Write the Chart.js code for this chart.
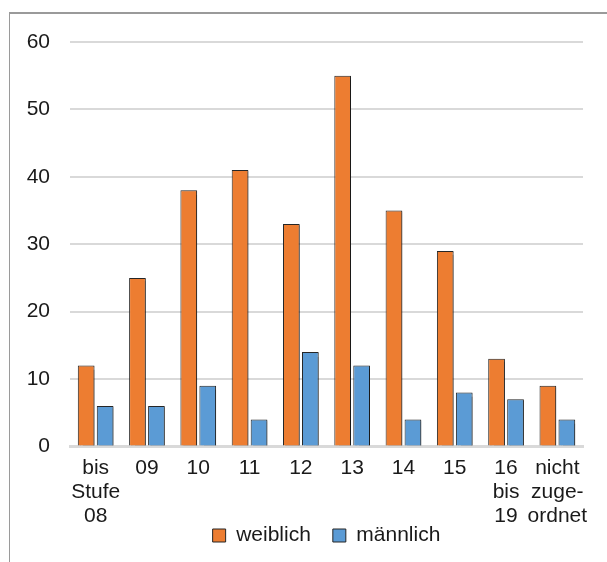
<!DOCTYPE html>
<html>
<head>
<meta charset="utf-8">
<script src="https://cdn.jsdelivr.net/npm/chart.js@4/dist/chart.umd.min.js"></script>
<style>
  html, body { margin: 0; padding: 0; background: #fff; }
  #wrap { position: relative; width: 607px; height: 562px; }
  #frame { position: absolute; left: 9px; top: 12px; right: 0; bottom: 0; border-top: 2px solid #9a9a9a; border-left: 1px solid #9a9a9a; pointer-events: none; }
  canvas { position: absolute; left: 0; top: 0; }
</style>
</head>
<body>
<div id="wrap">
  <canvas id="c" width="607" height="562"></canvas>
  <div id="frame"></div>
</div>
<script>
const categories = [["bis","Stufe","08"], "09", "10", "11", "12", "13", "14", "15", ["16","bis","19"], ["nicht","zuge-","ordnet"]];
const weiblich = [12, 25, 38, 41, 33, 55, 35, 29, 13, 9];
const maennlich = [6, 6, 9, 4, 14, 12, 4, 8, 7, 4];
const yTicks = [0, 10, 20, 30, 40, 50, 60];

const FONT = "'Liberation Sans', Arial, sans-serif";

const shadowPlugin = {
  id: 'barShadow',
  beforeDraw(chart) {
    // let the multi-line category labels extend below the axis box
    if (chart.scales.x) chart.scales.x._computeLabelArea = function () { return undefined; };
  },
  beforeDatasetsDraw(chart) {
    const ctx = chart.ctx;
    ctx.save();
    ctx.shadowColor = 'rgba(0,0,0,0.35)';
    ctx.shadowOffsetX = 2;
    ctx.shadowOffsetY = 1;
    ctx.shadowBlur = 1;
  },
  afterDatasetsDraw(chart) {
    chart.ctx.restore();
  }
};

new Chart(document.getElementById('c'), {
  type: 'bar',
  data: {
    labels: categories,
    datasets: [
      { label: 'weiblich', data: weiblich, backgroundColor: '#ED7D31', borderColor: '#262626', borderWidth: 1, categoryPercentage: 0.74, barPercentage: 0.88 },
      { label: 'männlich', data: maennlich, backgroundColor: '#5B9BD5', borderColor: '#262626', borderWidth: 1, categoryPercentage: 0.74, barPercentage: 0.88 }
    ]
  },
  options: {
    responsive: false,
    animation: false,
    devicePixelRatio: 1,
    layout: { padding: { top: 42, right: 24, bottom: 6, left: 0 } },
    plugins: {
      tooltip: { enabled: false },
      legend: {
        position: 'bottom',
        fullSize: false,
        labels: { font: { family: FONT, size: 21 }, color: '#1a1a1a', boxWidth: 13, boxHeight: 13, padding: 22 }
      }
    },
    scales: {
      x: {
        grid: { display: false, drawTicks: false },
        border: { display: true, color: '#d9d9d9', width: 3 },
        ticks: { font: { family: FONT, size: 21, lineHeight: 1.143 }, color: '#1a1a1a', padding: 10, maxRotation: 0, autoSkip: false },
        afterFit(scale) { scale.height = 56.5; }
      },
      y: {
        min: 0, max: 60,
        afterBuildTicks(scale) { scale.ticks = yTicks.map(v => ({ value: v })); },
        grid: { color: '#d9d9d9', lineWidth: 2, drawTicks: false },
        border: { display: false },
        ticks: { font: { family: FONT, size: 21 }, color: '#1a1a1a', padding: 20 },
        afterFit(scale) { scale.width = 70; }
      }
    }
  },
  plugins: [shadowPlugin]
});
</script>
</body>
</html>
